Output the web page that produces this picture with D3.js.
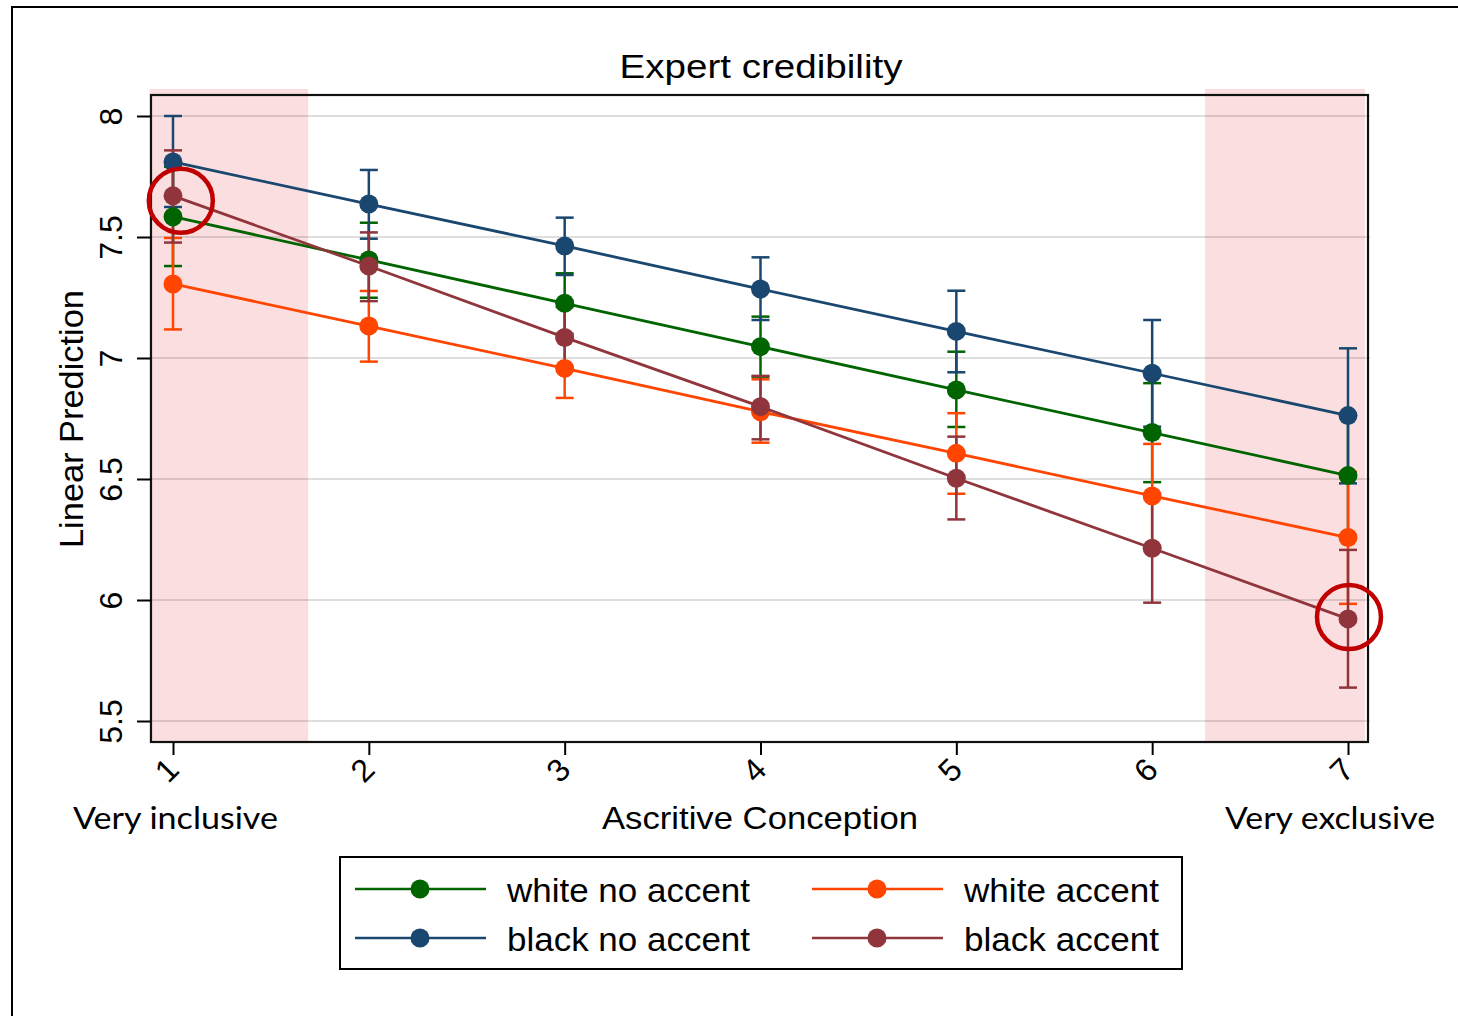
<!DOCTYPE html>
<html>
<head>
<meta charset="utf-8">
<script src="https://cdn.jsdelivr.net/npm/d3@7"></script>
<style>
  html, body { margin: 0; padding: 0; background: #fff; }
  svg { display: block; }
</style>
</head>
<body>
<svg id="chart" width="1458" height="1016"></svg>
<script>
// ---------------- DATA ----------------
const categories = [1, 2, 3, 4, 5, 6, 7];
const yTicks = [5.5, 6, 6.5, 7, 7.5, 8];
const yTickLabels = ["5.5", "6", "6.5", "7", "7.5", "8"];
const xTickLabels = ["1", "2", "3", "4", "5", "6", "7"];

const seriesNames = ["white no accent", "white accent", "black no accent", "black accent"];

const whiteNoAccent   = [7.584, 7.405, 7.226, 7.047, 6.868, 6.692, 6.514];
const whiteNoAccentLo = [7.380, 7.249, 7.100, 6.923, 6.715, 6.487, 6.260];
const whiteNoAccentHi = [7.790, 7.559, 7.350, 7.171, 7.026, 6.896, 6.770];

const whiteAccent   = [7.306, 7.132, 6.957, 6.778, 6.606, 6.430, 6.258];
const whiteAccentLo = [7.118, 6.985, 6.835, 6.650, 6.439, 6.215, 5.984];
const whiteAccentHi = [7.496, 7.277, 7.080, 6.912, 6.772, 6.645, 6.530];

const blackNoAccent   = [7.810, 7.636, 7.463, 7.285, 7.110, 6.937, 6.762];
const blackNoAccentLo = [7.624, 7.493, 7.343, 7.157, 6.941, 6.716, 6.482];
const blackNoAccentHi = [8.000, 7.777, 7.580, 7.416, 7.278, 7.157, 7.040];

const blackAccent   = [7.670, 7.380, 7.085, 6.799, 6.503, 6.214, 5.922];
const blackAccentLo = [7.477, 7.235, 6.960, 6.664, 6.333, 5.989, 5.638];
const blackAccentHi = [7.858, 7.519, 7.210, 6.926, 6.675, 6.440, 6.207];

// shaded x-ranges (in category units)
const shadeRanges = [[0.88, 1.69], [6.27, 7.087]];
// highlighted points (category, value)
const highlights = [[1.04, 7.65], [7.005, 5.93]];

// ---------------- STYLE / LAYOUT ----------------
const colors = ["#006400", "#ff4500", "#1a476f", "#90353b"];
const plotLeft = 151, plotRight = 1368, plotTop = 95, plotBottom = 742;
const shadeTop = 89;

const series = [
  { name: seriesNames[0], v: whiteNoAccent, lo: whiteNoAccentLo, hi: whiteNoAccentHi, color: colors[0] },
  { name: seriesNames[1], v: whiteAccent,   lo: whiteAccentLo,   hi: whiteAccentHi,   color: colors[1] },
  { name: seriesNames[2], v: blackNoAccent, lo: blackNoAccentLo, hi: blackNoAccentHi, color: colors[2] },
  { name: seriesNames[3], v: blackAccent,   lo: blackAccentLo,   hi: blackAccentHi,   color: colors[3] }
];

const svg = d3.select("#chart");
const x = d3.scaleLinear().domain([1, 7]).range([173, 1348]);
const y = d3.scaleLinear().domain([5.5, 8]).range([721, 116]);

const sans = "'Liberation Sans', Arial, sans-serif";
const calib = "Lato, 'Open Sans', sans-serif";

// outer frame
svg.append("rect").attr("x", 12).attr("y", 7).attr("width", 1500).attr("height", 1100)
  .attr("fill", "none").attr("stroke", "#000").attr("stroke-width", 2);

// shading
svg.selectAll("rect.shade").data(shadeRanges).join("rect")
  .attr("class", "shade")
  .attr("x", d => x(d[0])).attr("width", d => x(d[1]) - x(d[0]))
  .attr("y", shadeTop).attr("height", plotBottom - shadeTop)
  .attr("fill", "#fbdfe0");

// gridlines
svg.selectAll("line.grid").data(yTicks).join("line")
  .attr("class", "grid")
  .attr("x1", plotLeft).attr("x2", plotRight + 2)
  .attr("y1", d => y(d)).attr("y2", d => y(d))
  .attr("stroke", "#000").attr("stroke-opacity", 0.13).attr("stroke-width", 2.2);

// plot frame
svg.append("rect").attr("x", plotLeft).attr("y", plotTop)
  .attr("width", plotRight - plotLeft).attr("height", plotBottom - plotTop)
  .attr("fill", "none").attr("stroke", "#111").attr("stroke-width", 2.2);

// y axis
const yAxis = d3.axisLeft(y).tickValues(yTicks).tickSize(14).tickFormat((d, i) => yTickLabels[i]);
const gy = svg.append("g").attr("transform", `translate(${plotLeft},0)`).call(yAxis);
gy.select(".domain").remove();
gy.selectAll(".tick line").attr("stroke", "#000").attr("stroke-width", 2);
gy.selectAll(".tick text")
  .attr("font-family", sans).attr("font-size", 32).attr("fill", "#000")
  .attr("x", 0).attr("y", 0).attr("dy", null)
  .attr("text-anchor", "middle")
  .attr("transform", "translate(-29,0) rotate(-90)");

// x axis
const xAxis = d3.axisBottom(x).tickValues(categories).tickSize(13).tickFormat((d, i) => xTickLabels[i]);
const gx = svg.append("g").attr("transform", `translate(0,${plotBottom})`).call(xAxis);
gx.select(".domain").remove();
gx.selectAll(".tick line").attr("stroke", "#000").attr("stroke-width", 2);
gx.selectAll(".tick text")
  .attr("font-family", sans).attr("font-size", 32).attr("fill", "#000")
  .attr("x", 0).attr("y", 0).attr("dy", "0.35em")
  .attr("text-anchor", "middle")
  .attr("transform", "translate(-7,28) rotate(-45)");

// axis titles & title
svg.append("text").attr("x", 761).attr("y", 78).attr("text-anchor", "middle")
  .attr("font-family", sans).attr("font-size", 33)
  .attr("textLength", 283).attr("lengthAdjust", "spacingAndGlyphs")
  .text("Expert credibility");

svg.append("text").attr("x", 760).attr("y", 829).attr("text-anchor", "middle")
  .attr("font-family", sans).attr("font-size", 32)
  .attr("textLength", 316).attr("lengthAdjust", "spacingAndGlyphs")
  .text("Ascritive Conception");

svg.append("text").attr("transform", "translate(83,419) rotate(-90)")
  .attr("text-anchor", "middle")
  .attr("font-family", sans).attr("font-size", 33)
  .attr("textLength", 258).attr("lengthAdjust", "spacingAndGlyphs")
  .text("Linear Prediction");

svg.append("text").attr("x", 73).attr("y", 829)
  .attr("font-family", calib).attr("font-size", 30)
  .attr("textLength", 205).attr("lengthAdjust", "spacingAndGlyphs")
  .text("Very inclusive");
svg.append("text").attr("x", 1225).attr("y", 829)
  .attr("font-family", calib).attr("font-size", 30)
  .attr("textLength", 210).attr("lengthAdjust", "spacingAndGlyphs")
  .text("Very exclusive");

// error bars (all first)
const capHalf = 9;
series.forEach(s => {
  const g = svg.append("g").attr("stroke", s.color).attr("stroke-width", 2.5).attr("fill", "none");
  categories.forEach((c, i) => {
    g.append("line").attr("x1", x(c)).attr("x2", x(c)).attr("y1", y(s.lo[i])).attr("y2", y(s.hi[i]));
    g.append("line").attr("x1", x(c) - capHalf).attr("x2", x(c) + capHalf).attr("y1", y(s.lo[i])).attr("y2", y(s.lo[i]));
    g.append("line").attr("x1", x(c) - capHalf).attr("x2", x(c) + capHalf).attr("y1", y(s.hi[i])).attr("y2", y(s.hi[i]));
  });
});

// lines + markers
const line = d3.line().x((d, i) => x(categories[i])).y(d => y(d));
series.forEach(s => {
  svg.append("path").datum(s.v).attr("d", line)
    .attr("fill", "none").attr("stroke", s.color).attr("stroke-width", 2.8);
  svg.append("g").selectAll("circle").data(s.v).join("circle")
    .attr("cx", (d, i) => x(categories[i])).attr("cy", d => y(d)).attr("r", 9.5)
    .attr("fill", s.color);
});

// highlight circles
svg.selectAll("circle.hl").data(highlights).join("circle")
  .attr("class", "hl")
  .attr("cx", d => x(d[0])).attr("cy", d => y(d[1])).attr("r", 32)
  .attr("fill", "none").attr("stroke", "#c00000").attr("stroke-width", 4.5);

// legend
const lg = svg.append("g");
lg.append("rect").attr("x", 340).attr("y", 857).attr("width", 842).attr("height", 112)
  .attr("fill", "#fff").attr("stroke", "#000").attr("stroke-width", 2);
const colX = [355, 812];
const rowY = [889, 938];
const legendTextLen = [243, 195, 243, 195];
series.forEach((s, i) => {
  const cx0 = colX[i % 2], cy0 = rowY[Math.floor(i / 2)];
  lg.append("line").attr("x1", cx0).attr("x2", cx0 + 131).attr("y1", cy0).attr("y2", cy0)
    .attr("stroke", s.color).attr("stroke-width", 2.6);
  lg.append("circle").attr("cx", cx0 + 65).attr("cy", cy0).attr("r", 9.5).attr("fill", s.color);
  lg.append("text").attr("x", cx0 + 152).attr("y", cy0 + 13)
    .attr("font-family", sans).attr("font-size", 33)
    .attr("textLength", legendTextLen[i]).attr("lengthAdjust", "spacingAndGlyphs")
    .text(s.name);
});
</script>
</body>
</html>
